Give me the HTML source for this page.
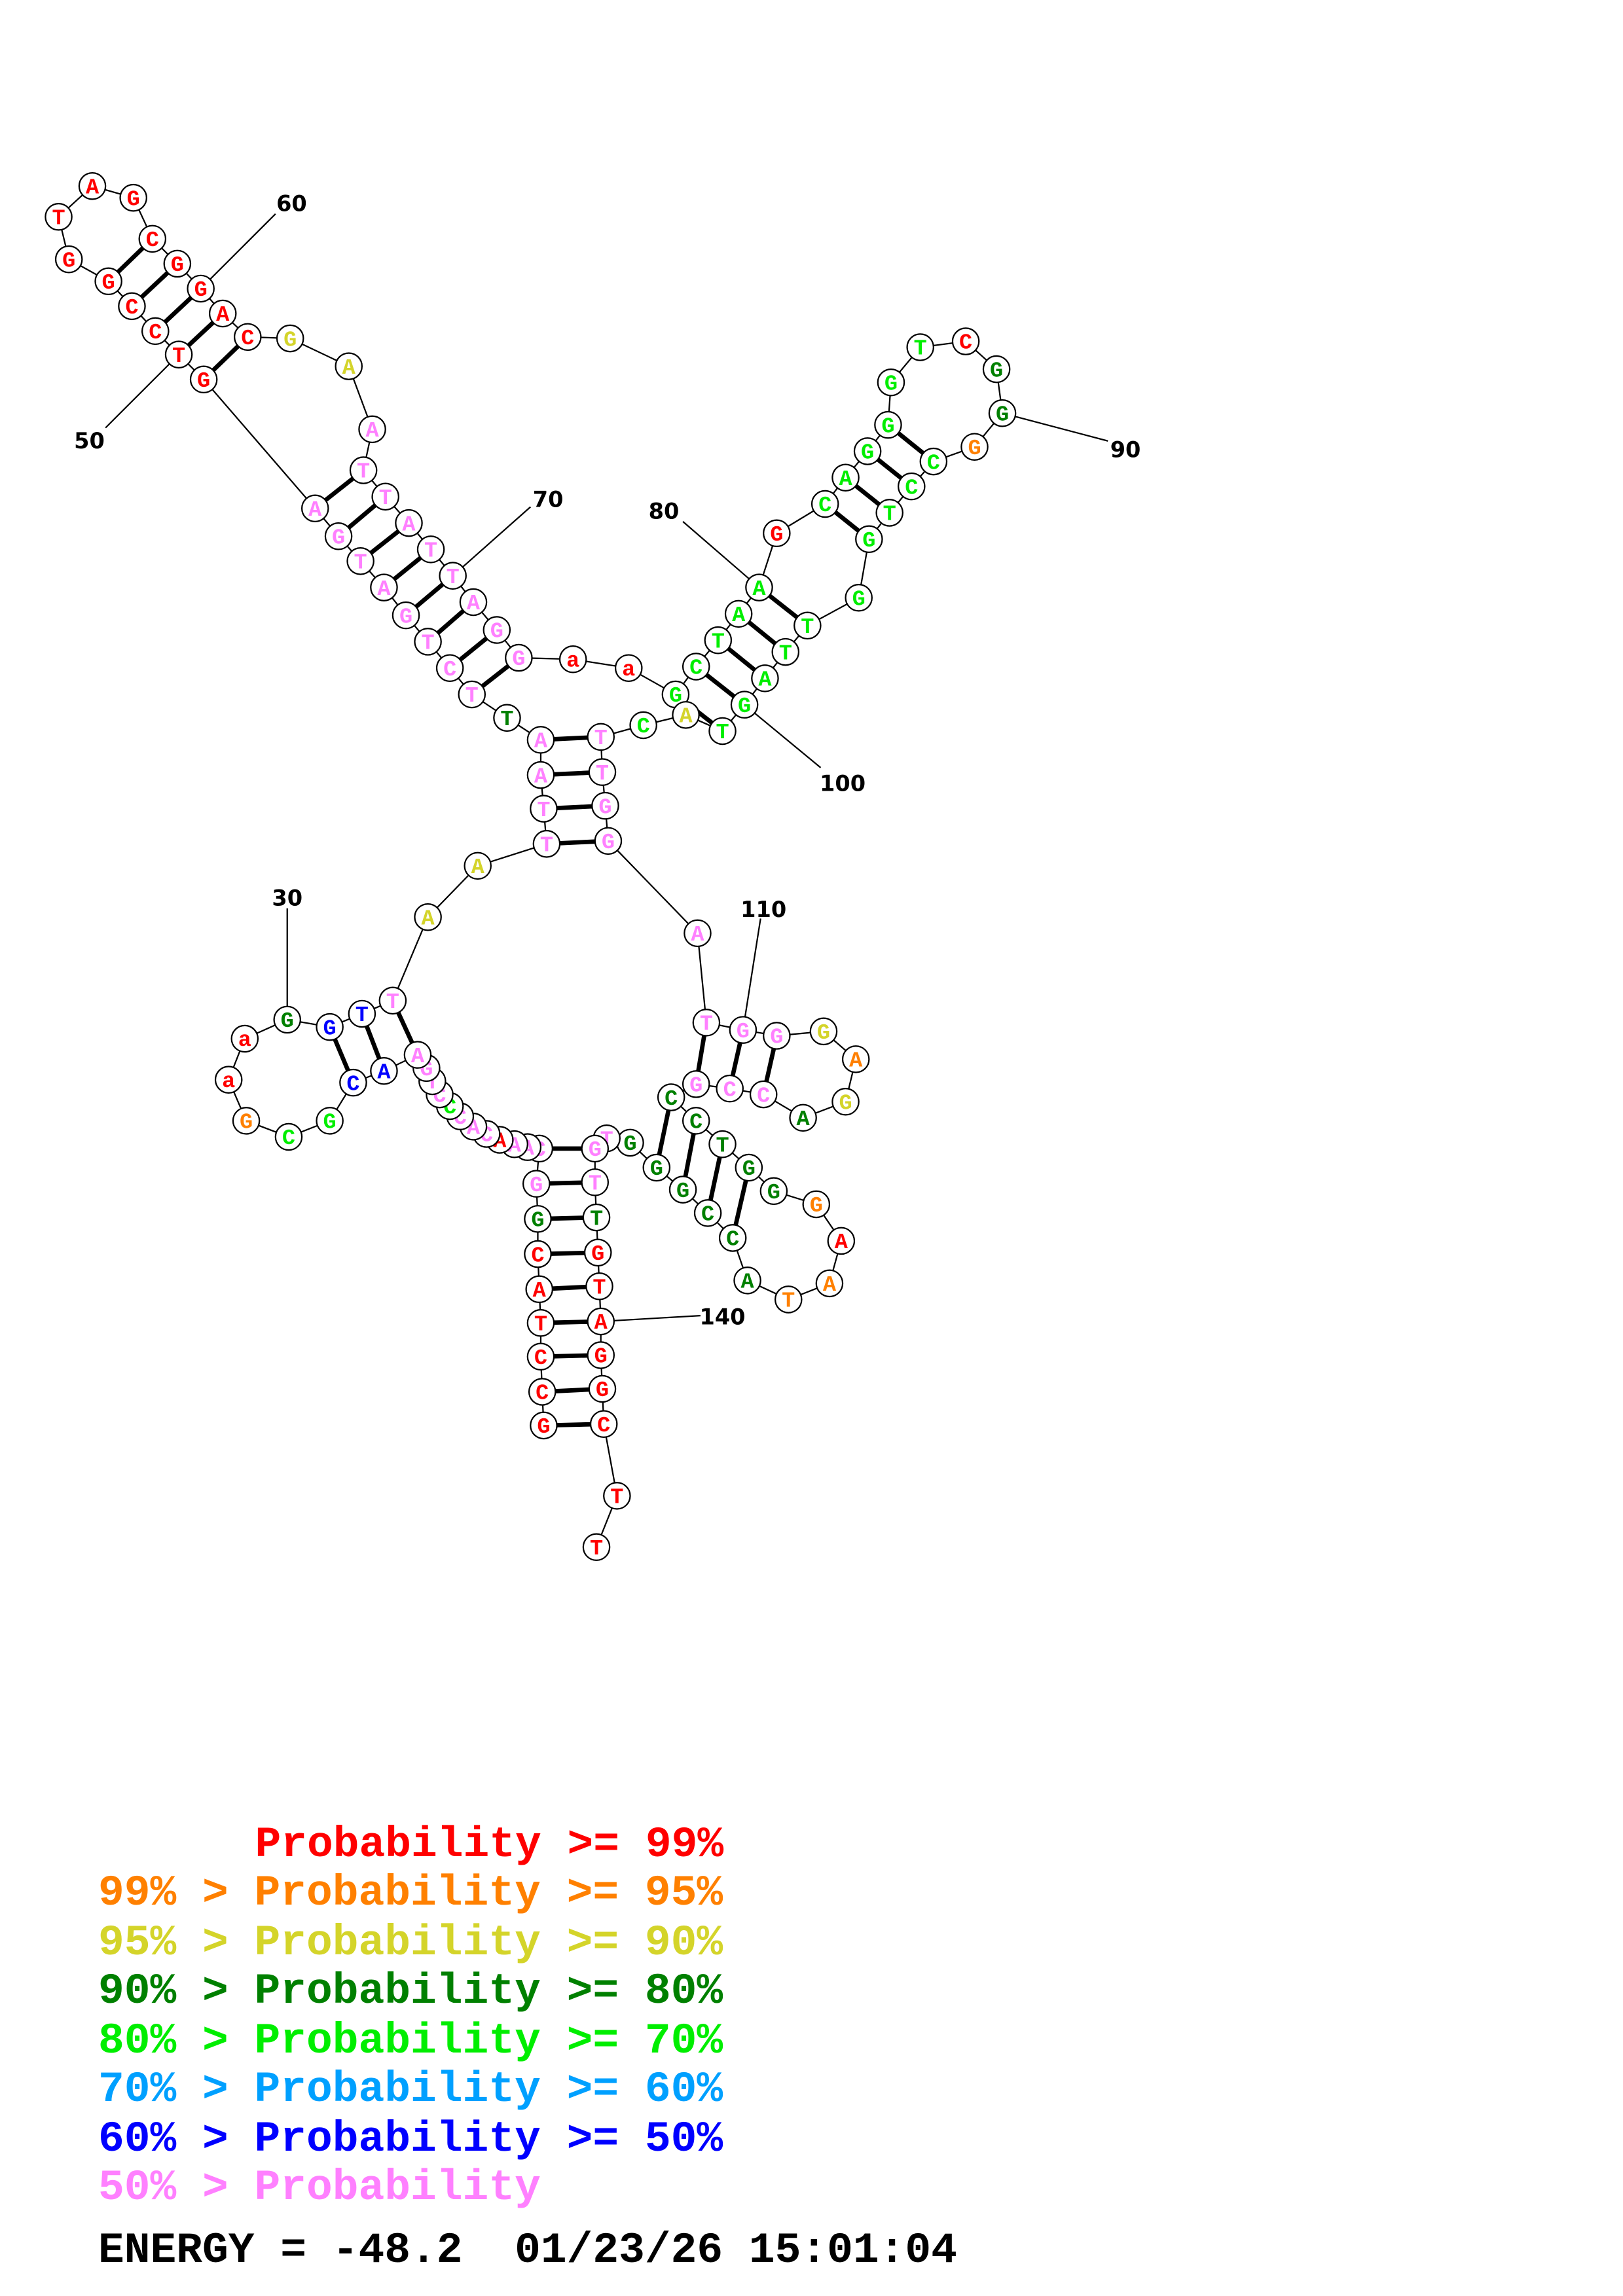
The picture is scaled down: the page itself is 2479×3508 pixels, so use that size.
<!DOCTYPE html>
<html><head><meta charset="utf-8"><style>
html,body{margin:0;padding:0;background:#fff}
svg{display:block}
.n text{font-family:"Liberation Mono",monospace;font-weight:bold;font-size:15px;text-anchor:middle}
.lb{font-family:"DejaVu Sans","Liberation Sans",sans-serif;font-weight:bold;font-size:15px;text-anchor:middle}
.lg{font-family:"Liberation Mono",monospace;font-weight:bold;font-size:29.6px}
</style></head><body>
<svg width="2479" height="3508" viewBox="0 0 1107.5 1567.2" preserveAspectRatio="none" xmlns="http://www.w3.org/2000/svg">
<rect width="1107.5" height="1567.2" fill="#fff"/>
<g stroke="#000" stroke-width="1" fill="none">
<polyline points="371,973 370,950 369,926 369,903 368,880 367,856 367,832 366,808 368,784 360,783 351,781 341,778 332,774 323,769 314,762 307,755 300,747 295,738 291,729 285,720 262,731 241,739 225,765 197,776 168,765 156,737 167,709 196,696 225,701 247,692 268,683 292,626 326,591 373,576 371,552 369,529 369,505 346,490 322,474 307,456 292,438 277,420 262,401 246,383 231,366 215,347 139,259 122,242 106,226 90,209 74,192 47,177 40,148 63,127 91,135 104,163 121,180 137,197 152,214 169,230 198,231 238,250 254,293 248,321 263,339 279,357 294,375 309,393 323,411 339,430 354,449 391,450 429,456 461,474 475,455 490,437 504,419 518,401 530,364 563,344 577,326 592,308 606,290 608,261 628,237 659,233 680,252 684,282 665,305 637,315 622,332 607,350 593,368 586,408 551,427 536,445 522,463 508,481 493,499 468,488 439,495 410,503 411,527 413,550 415,574 476,637 482,698 507,703 530,707 562,704 584,723 577,752 548,763 521,747 498,743 475,740 458,749 475,765 493,781 511,797 528,813 557,822 574,847 566,876 538,887 510,874 500,845 483,828 466,812 448,797 430,780 414,777 406,784 406,807 407,831 408,855 409,878 410,902 410,925 411,948 412,972 421,1021 407,1056"/>
<line x1="196" y1="620" x2="196" y2="696"/>
<line x1="72" y1="292" x2="122" y2="242"/>
<line x1="188" y1="146" x2="137" y2="197"/>
<line x1="362" y1="346" x2="309" y2="393"/>
<line x1="466" y1="356" x2="518" y2="401"/>
<line x1="756" y1="301" x2="684" y2="282"/>
<line x1="560" y1="524" x2="508" y2="481"/>
<line x1="519" y1="627" x2="507" y2="703"/>
<line x1="478" y1="898" x2="410" y2="902"/>
</g>
<g stroke="#000" stroke-width="3">
<line x1="371" y1="973" x2="412" y2="972"/><line x1="370" y1="950" x2="411" y2="948"/><line x1="369" y1="926" x2="410" y2="925"/><line x1="369" y1="903" x2="410" y2="902"/><line x1="368" y1="880" x2="409" y2="878"/><line x1="367" y1="856" x2="408" y2="855"/><line x1="367" y1="832" x2="407" y2="831"/><line x1="366" y1="808" x2="406" y2="807"/><line x1="368" y1="784" x2="406" y2="784"/>
<line x1="268" y1="683" x2="285" y2="720"/><line x1="247" y1="692" x2="262" y2="731"/><line x1="225" y1="701" x2="241" y2="739"/>
<line x1="373" y1="576" x2="415" y2="574"/><line x1="371" y1="552" x2="413" y2="550"/><line x1="369" y1="529" x2="411" y2="527"/><line x1="369" y1="505" x2="410" y2="503"/>
<line x1="248" y1="321" x2="215" y2="347"/><line x1="263" y1="339" x2="231" y2="366"/><line x1="279" y1="357" x2="246" y2="383"/><line x1="294" y1="375" x2="262" y2="401"/><line x1="309" y1="393" x2="277" y2="420"/><line x1="323" y1="411" x2="292" y2="438"/><line x1="339" y1="430" x2="307" y2="456"/><line x1="354" y1="449" x2="322" y2="474"/>
<line x1="104" y1="163" x2="74" y2="192"/><line x1="121" y1="180" x2="90" y2="209"/><line x1="137" y1="197" x2="106" y2="226"/><line x1="152" y1="214" x2="122" y2="242"/><line x1="169" y1="230" x2="139" y2="259"/>
<line x1="461" y1="474" x2="493" y2="499"/><line x1="475" y1="455" x2="508" y2="481"/><line x1="490" y1="437" x2="522" y2="463"/><line x1="504" y1="419" x2="536" y2="445"/><line x1="518" y1="401" x2="551" y2="427"/>
<line x1="563" y1="344" x2="593" y2="368"/><line x1="577" y1="326" x2="607" y2="350"/><line x1="592" y1="308" x2="622" y2="332"/><line x1="606" y1="290" x2="637" y2="315"/>
<line x1="482" y1="698" x2="475" y2="740"/><line x1="507" y1="703" x2="498" y2="743"/><line x1="530" y1="707" x2="521" y2="747"/>
<line x1="458" y1="749" x2="448" y2="797"/><line x1="475" y1="765" x2="466" y2="812"/><line x1="493" y1="781" x2="483" y2="828"/><line x1="511" y1="797" x2="500" y2="845"/>
</g>
<g class="n">
<g transform="translate(371,973)"><circle r="9" fill="#fff" stroke="#000"/><text y="5" fill="#f00">G</text></g>
<g transform="translate(370,950)"><circle r="9" fill="#fff" stroke="#000"/><text y="5" fill="#f00">C</text></g>
<g transform="translate(369,926)"><circle r="9" fill="#fff" stroke="#000"/><text y="5" fill="#f00">C</text></g>
<g transform="translate(369,903)"><circle r="9" fill="#fff" stroke="#000"/><text y="5" fill="#f00">T</text></g>
<g transform="translate(368,880)"><circle r="9" fill="#fff" stroke="#000"/><text y="5" fill="#f00">A</text></g>
<g transform="translate(367,856)"><circle r="9" fill="#fff" stroke="#000"/><text y="5" fill="#f00">C</text></g>
<g transform="translate(367,832)"><circle r="9" fill="#fff" stroke="#000"/><text y="5" fill="#008000">G</text></g>
<g transform="translate(366,808)"><circle r="9" fill="#fff" stroke="#000"/><text y="5" fill="#ff80ff">G</text></g>
<g transform="translate(368,784)"><circle r="9" fill="#fff" stroke="#000"/><text y="5" fill="#ff80ff">C</text></g>
<g transform="translate(360,783)"><circle r="9" fill="#fff" stroke="#000"/><text y="5" fill="#ff80ff">A</text></g>
<g transform="translate(351,781)"><circle r="9" fill="#fff" stroke="#000"/><text y="5" fill="#ff80ff">A</text></g>
<g transform="translate(341,778)"><circle r="9" fill="#fff" stroke="#000"/><text y="5" fill="#f00">A</text></g>
<g transform="translate(332,774)"><circle r="9" fill="#fff" stroke="#000"/><text y="5" fill="#ff80ff">C</text></g>
<g transform="translate(323,769)"><circle r="9" fill="#fff" stroke="#000"/><text y="5" fill="#ff80ff">A</text></g>
<g transform="translate(314,762)"><circle r="9" fill="#fff" stroke="#000"/><text y="5" fill="#ff80ff">C</text></g>
<g transform="translate(307,755)"><circle r="9" fill="#fff" stroke="#000"/><text y="5" fill="#0e0">C</text></g>
<g transform="translate(300,747)"><circle r="9" fill="#fff" stroke="#000"/><text y="5" fill="#ff80ff">C</text></g>
<g transform="translate(295,738)"><circle r="9" fill="#fff" stroke="#000"/><text y="5" fill="#ff80ff">T</text></g>
<g transform="translate(291,729)"><circle r="9" fill="#fff" stroke="#000"/><text y="5" fill="#ff80ff">G</text></g>
<g transform="translate(285,720)"><circle r="9" fill="#fff" stroke="#000"/><text y="5" fill="#ff80ff">A</text></g>
<g transform="translate(262,731)"><circle r="9" fill="#fff" stroke="#000"/><text y="5" fill="#00f">A</text></g>
<g transform="translate(241,739)"><circle r="9" fill="#fff" stroke="#000"/><text y="5" fill="#00f">C</text></g>
<g transform="translate(225,765)"><circle r="9" fill="#fff" stroke="#000"/><text y="5" fill="#0e0">G</text></g>
<g transform="translate(197,776)"><circle r="9" fill="#fff" stroke="#000"/><text y="5" fill="#0e0">C</text></g>
<g transform="translate(168,765)"><circle r="9" fill="#fff" stroke="#000"/><text y="5" fill="#ff8000">G</text></g>
<g transform="translate(156,737)"><circle r="9" fill="#fff" stroke="#000"/><text y="5" fill="#f00">a</text></g>
<g transform="translate(167,709)"><circle r="9" fill="#fff" stroke="#000"/><text y="5" fill="#f00">a</text></g>
<g transform="translate(196,696)"><circle r="9" fill="#fff" stroke="#000"/><text y="5" fill="#008000">G</text></g>
<g transform="translate(225,701)"><circle r="9" fill="#fff" stroke="#000"/><text y="5" fill="#00f">G</text></g>
<g transform="translate(247,692)"><circle r="9" fill="#fff" stroke="#000"/><text y="5" fill="#00f">T</text></g>
<g transform="translate(268,683)"><circle r="9" fill="#fff" stroke="#000"/><text y="5" fill="#ff80ff">T</text></g>
<g transform="translate(292,626)"><circle r="9" fill="#fff" stroke="#000"/><text y="5" fill="#d4d42a">A</text></g>
<g transform="translate(326,591)"><circle r="9" fill="#fff" stroke="#000"/><text y="5" fill="#d4d42a">A</text></g>
<g transform="translate(373,576)"><circle r="9" fill="#fff" stroke="#000"/><text y="5" fill="#ff80ff">T</text></g>
<g transform="translate(371,552)"><circle r="9" fill="#fff" stroke="#000"/><text y="5" fill="#ff80ff">T</text></g>
<g transform="translate(369,529)"><circle r="9" fill="#fff" stroke="#000"/><text y="5" fill="#ff80ff">A</text></g>
<g transform="translate(369,505)"><circle r="9" fill="#fff" stroke="#000"/><text y="5" fill="#ff80ff">A</text></g>
<g transform="translate(346,490)"><circle r="9" fill="#fff" stroke="#000"/><text y="5" fill="#008000">T</text></g>
<g transform="translate(322,474)"><circle r="9" fill="#fff" stroke="#000"/><text y="5" fill="#ff80ff">T</text></g>
<g transform="translate(307,456)"><circle r="9" fill="#fff" stroke="#000"/><text y="5" fill="#ff80ff">C</text></g>
<g transform="translate(292,438)"><circle r="9" fill="#fff" stroke="#000"/><text y="5" fill="#ff80ff">T</text></g>
<g transform="translate(277,420)"><circle r="9" fill="#fff" stroke="#000"/><text y="5" fill="#ff80ff">G</text></g>
<g transform="translate(262,401)"><circle r="9" fill="#fff" stroke="#000"/><text y="5" fill="#ff80ff">A</text></g>
<g transform="translate(246,383)"><circle r="9" fill="#fff" stroke="#000"/><text y="5" fill="#ff80ff">T</text></g>
<g transform="translate(231,366)"><circle r="9" fill="#fff" stroke="#000"/><text y="5" fill="#ff80ff">G</text></g>
<g transform="translate(215,347)"><circle r="9" fill="#fff" stroke="#000"/><text y="5" fill="#ff80ff">A</text></g>
<g transform="translate(139,259)"><circle r="9" fill="#fff" stroke="#000"/><text y="5" fill="#f00">G</text></g>
<g transform="translate(122,242)"><circle r="9" fill="#fff" stroke="#000"/><text y="5" fill="#f00">T</text></g>
<g transform="translate(106,226)"><circle r="9" fill="#fff" stroke="#000"/><text y="5" fill="#f00">C</text></g>
<g transform="translate(90,209)"><circle r="9" fill="#fff" stroke="#000"/><text y="5" fill="#f00">C</text></g>
<g transform="translate(74,192)"><circle r="9" fill="#fff" stroke="#000"/><text y="5" fill="#f00">G</text></g>
<g transform="translate(47,177)"><circle r="9" fill="#fff" stroke="#000"/><text y="5" fill="#f00">G</text></g>
<g transform="translate(40,148)"><circle r="9" fill="#fff" stroke="#000"/><text y="5" fill="#f00">T</text></g>
<g transform="translate(63,127)"><circle r="9" fill="#fff" stroke="#000"/><text y="5" fill="#f00">A</text></g>
<g transform="translate(91,135)"><circle r="9" fill="#fff" stroke="#000"/><text y="5" fill="#f00">G</text></g>
<g transform="translate(104,163)"><circle r="9" fill="#fff" stroke="#000"/><text y="5" fill="#f00">C</text></g>
<g transform="translate(121,180)"><circle r="9" fill="#fff" stroke="#000"/><text y="5" fill="#f00">G</text></g>
<g transform="translate(137,197)"><circle r="9" fill="#fff" stroke="#000"/><text y="5" fill="#f00">G</text></g>
<g transform="translate(152,214)"><circle r="9" fill="#fff" stroke="#000"/><text y="5" fill="#f00">A</text></g>
<g transform="translate(169,230)"><circle r="9" fill="#fff" stroke="#000"/><text y="5" fill="#f00">C</text></g>
<g transform="translate(198,231)"><circle r="9" fill="#fff" stroke="#000"/><text y="5" fill="#d4d42a">G</text></g>
<g transform="translate(238,250)"><circle r="9" fill="#fff" stroke="#000"/><text y="5" fill="#d4d42a">A</text></g>
<g transform="translate(254,293)"><circle r="9" fill="#fff" stroke="#000"/><text y="5" fill="#ff80ff">A</text></g>
<g transform="translate(248,321)"><circle r="9" fill="#fff" stroke="#000"/><text y="5" fill="#ff80ff">T</text></g>
<g transform="translate(263,339)"><circle r="9" fill="#fff" stroke="#000"/><text y="5" fill="#ff80ff">T</text></g>
<g transform="translate(279,357)"><circle r="9" fill="#fff" stroke="#000"/><text y="5" fill="#ff80ff">A</text></g>
<g transform="translate(294,375)"><circle r="9" fill="#fff" stroke="#000"/><text y="5" fill="#ff80ff">T</text></g>
<g transform="translate(309,393)"><circle r="9" fill="#fff" stroke="#000"/><text y="5" fill="#ff80ff">T</text></g>
<g transform="translate(323,411)"><circle r="9" fill="#fff" stroke="#000"/><text y="5" fill="#ff80ff">A</text></g>
<g transform="translate(339,430)"><circle r="9" fill="#fff" stroke="#000"/><text y="5" fill="#ff80ff">G</text></g>
<g transform="translate(354,449)"><circle r="9" fill="#fff" stroke="#000"/><text y="5" fill="#ff80ff">G</text></g>
<g transform="translate(391,450)"><circle r="9" fill="#fff" stroke="#000"/><text y="5" fill="#f00">a</text></g>
<g transform="translate(429,456)"><circle r="9" fill="#fff" stroke="#000"/><text y="5" fill="#f00">a</text></g>
<g transform="translate(461,474)"><circle r="9" fill="#fff" stroke="#000"/><text y="5" fill="#0e0">G</text></g>
<g transform="translate(475,455)"><circle r="9" fill="#fff" stroke="#000"/><text y="5" fill="#0e0">C</text></g>
<g transform="translate(490,437)"><circle r="9" fill="#fff" stroke="#000"/><text y="5" fill="#0e0">T</text></g>
<g transform="translate(504,419)"><circle r="9" fill="#fff" stroke="#000"/><text y="5" fill="#0e0">A</text></g>
<g transform="translate(518,401)"><circle r="9" fill="#fff" stroke="#000"/><text y="5" fill="#0e0">A</text></g>
<g transform="translate(530,364)"><circle r="9" fill="#fff" stroke="#000"/><text y="5" fill="#f00">G</text></g>
<g transform="translate(563,344)"><circle r="9" fill="#fff" stroke="#000"/><text y="5" fill="#0e0">C</text></g>
<g transform="translate(577,326)"><circle r="9" fill="#fff" stroke="#000"/><text y="5" fill="#0e0">A</text></g>
<g transform="translate(592,308)"><circle r="9" fill="#fff" stroke="#000"/><text y="5" fill="#0e0">G</text></g>
<g transform="translate(606,290)"><circle r="9" fill="#fff" stroke="#000"/><text y="5" fill="#0e0">G</text></g>
<g transform="translate(608,261)"><circle r="9" fill="#fff" stroke="#000"/><text y="5" fill="#0e0">G</text></g>
<g transform="translate(628,237)"><circle r="9" fill="#fff" stroke="#000"/><text y="5" fill="#0e0">T</text></g>
<g transform="translate(659,233)"><circle r="9" fill="#fff" stroke="#000"/><text y="5" fill="#f00">C</text></g>
<g transform="translate(680,252)"><circle r="9" fill="#fff" stroke="#000"/><text y="5" fill="#008000">G</text></g>
<g transform="translate(684,282)"><circle r="9" fill="#fff" stroke="#000"/><text y="5" fill="#008000">G</text></g>
<g transform="translate(665,305)"><circle r="9" fill="#fff" stroke="#000"/><text y="5" fill="#ff8000">G</text></g>
<g transform="translate(637,315)"><circle r="9" fill="#fff" stroke="#000"/><text y="5" fill="#0e0">C</text></g>
<g transform="translate(622,332)"><circle r="9" fill="#fff" stroke="#000"/><text y="5" fill="#0e0">C</text></g>
<g transform="translate(607,350)"><circle r="9" fill="#fff" stroke="#000"/><text y="5" fill="#0e0">T</text></g>
<g transform="translate(593,368)"><circle r="9" fill="#fff" stroke="#000"/><text y="5" fill="#0e0">G</text></g>
<g transform="translate(586,408)"><circle r="9" fill="#fff" stroke="#000"/><text y="5" fill="#0e0">G</text></g>
<g transform="translate(551,427)"><circle r="9" fill="#fff" stroke="#000"/><text y="5" fill="#0e0">T</text></g>
<g transform="translate(536,445)"><circle r="9" fill="#fff" stroke="#000"/><text y="5" fill="#0e0">T</text></g>
<g transform="translate(522,463)"><circle r="9" fill="#fff" stroke="#000"/><text y="5" fill="#0e0">A</text></g>
<g transform="translate(508,481)"><circle r="9" fill="#fff" stroke="#000"/><text y="5" fill="#0e0">G</text></g>
<g transform="translate(493,499)"><circle r="9" fill="#fff" stroke="#000"/><text y="5" fill="#0e0">T</text></g>
<g transform="translate(468,488)"><circle r="9" fill="#fff" stroke="#000"/><text y="5" fill="#d4d42a">A</text></g>
<g transform="translate(439,495)"><circle r="9" fill="#fff" stroke="#000"/><text y="5" fill="#0e0">C</text></g>
<g transform="translate(410,503)"><circle r="9" fill="#fff" stroke="#000"/><text y="5" fill="#ff80ff">T</text></g>
<g transform="translate(411,527)"><circle r="9" fill="#fff" stroke="#000"/><text y="5" fill="#ff80ff">T</text></g>
<g transform="translate(413,550)"><circle r="9" fill="#fff" stroke="#000"/><text y="5" fill="#ff80ff">G</text></g>
<g transform="translate(415,574)"><circle r="9" fill="#fff" stroke="#000"/><text y="5" fill="#ff80ff">G</text></g>
<g transform="translate(476,637)"><circle r="9" fill="#fff" stroke="#000"/><text y="5" fill="#ff80ff">A</text></g>
<g transform="translate(482,698)"><circle r="9" fill="#fff" stroke="#000"/><text y="5" fill="#ff80ff">T</text></g>
<g transform="translate(507,703)"><circle r="9" fill="#fff" stroke="#000"/><text y="5" fill="#ff80ff">G</text></g>
<g transform="translate(530,707)"><circle r="9" fill="#fff" stroke="#000"/><text y="5" fill="#ff80ff">G</text></g>
<g transform="translate(562,704)"><circle r="9" fill="#fff" stroke="#000"/><text y="5" fill="#d4d42a">G</text></g>
<g transform="translate(584,723)"><circle r="9" fill="#fff" stroke="#000"/><text y="5" fill="#ff8000">A</text></g>
<g transform="translate(577,752)"><circle r="9" fill="#fff" stroke="#000"/><text y="5" fill="#d4d42a">G</text></g>
<g transform="translate(548,763)"><circle r="9" fill="#fff" stroke="#000"/><text y="5" fill="#008000">A</text></g>
<g transform="translate(521,747)"><circle r="9" fill="#fff" stroke="#000"/><text y="5" fill="#ff80ff">C</text></g>
<g transform="translate(498,743)"><circle r="9" fill="#fff" stroke="#000"/><text y="5" fill="#ff80ff">C</text></g>
<g transform="translate(475,740)"><circle r="9" fill="#fff" stroke="#000"/><text y="5" fill="#ff80ff">G</text></g>
<g transform="translate(458,749)"><circle r="9" fill="#fff" stroke="#000"/><text y="5" fill="#008000">C</text></g>
<g transform="translate(475,765)"><circle r="9" fill="#fff" stroke="#000"/><text y="5" fill="#008000">C</text></g>
<g transform="translate(493,781)"><circle r="9" fill="#fff" stroke="#000"/><text y="5" fill="#008000">T</text></g>
<g transform="translate(511,797)"><circle r="9" fill="#fff" stroke="#000"/><text y="5" fill="#008000">G</text></g>
<g transform="translate(528,813)"><circle r="9" fill="#fff" stroke="#000"/><text y="5" fill="#008000">G</text></g>
<g transform="translate(557,822)"><circle r="9" fill="#fff" stroke="#000"/><text y="5" fill="#ff8000">G</text></g>
<g transform="translate(574,847)"><circle r="9" fill="#fff" stroke="#000"/><text y="5" fill="#f00">A</text></g>
<g transform="translate(566,876)"><circle r="9" fill="#fff" stroke="#000"/><text y="5" fill="#ff8000">A</text></g>
<g transform="translate(538,887)"><circle r="9" fill="#fff" stroke="#000"/><text y="5" fill="#ff8000">T</text></g>
<g transform="translate(510,874)"><circle r="9" fill="#fff" stroke="#000"/><text y="5" fill="#008000">A</text></g>
<g transform="translate(500,845)"><circle r="9" fill="#fff" stroke="#000"/><text y="5" fill="#008000">C</text></g>
<g transform="translate(483,828)"><circle r="9" fill="#fff" stroke="#000"/><text y="5" fill="#008000">C</text></g>
<g transform="translate(466,812)"><circle r="9" fill="#fff" stroke="#000"/><text y="5" fill="#008000">G</text></g>
<g transform="translate(448,797)"><circle r="9" fill="#fff" stroke="#000"/><text y="5" fill="#008000">G</text></g>
<g transform="translate(430,780)"><circle r="9" fill="#fff" stroke="#000"/><text y="5" fill="#008000">G</text></g>
<g transform="translate(414,777)"><circle r="9" fill="#fff" stroke="#000"/><text y="5" fill="#ff80ff">T</text></g>
<g transform="translate(406,784)"><circle r="9" fill="#fff" stroke="#000"/><text y="5" fill="#ff80ff">G</text></g>
<g transform="translate(406,807)"><circle r="9" fill="#fff" stroke="#000"/><text y="5" fill="#ff80ff">T</text></g>
<g transform="translate(407,831)"><circle r="9" fill="#fff" stroke="#000"/><text y="5" fill="#008000">T</text></g>
<g transform="translate(408,855)"><circle r="9" fill="#fff" stroke="#000"/><text y="5" fill="#f00">G</text></g>
<g transform="translate(409,878)"><circle r="9" fill="#fff" stroke="#000"/><text y="5" fill="#f00">T</text></g>
<g transform="translate(410,902)"><circle r="9" fill="#fff" stroke="#000"/><text y="5" fill="#f00">A</text></g>
<g transform="translate(410,925)"><circle r="9" fill="#fff" stroke="#000"/><text y="5" fill="#f00">G</text></g>
<g transform="translate(411,948)"><circle r="9" fill="#fff" stroke="#000"/><text y="5" fill="#f00">G</text></g>
<g transform="translate(412,972)"><circle r="9" fill="#fff" stroke="#000"/><text y="5" fill="#f00">C</text></g>
<g transform="translate(421,1021)"><circle r="9" fill="#fff" stroke="#000"/><text y="5" fill="#f00">T</text></g>
<g transform="translate(407,1056)"><circle r="9" fill="#fff" stroke="#000"/><text y="5" fill="#f00">T</text></g>
</g>
<g class="lb" fill="#000">
<text x="196" y="618">30</text>
<text x="61" y="306">50</text>
<text x="199" y="144">60</text>
<text x="374" y="346">70</text>
<text x="453" y="354">80</text>
<text x="768" y="312">90</text>
<text x="575" y="540">100</text>
<text x="521" y="626">110</text>
<text x="493" y="904">140</text>
</g>
<g class="lg">
<text x="174" y="1267" fill="#f00">Probability &gt;= 99%</text>
<text x="67" y="1300" fill="#ff8000">99% &gt; Probability &gt;= 95%</text>
<text x="67" y="1334" fill="#d4d42a">95% &gt; Probability &gt;= 90%</text>
<text x="67" y="1367" fill="#008000">90% &gt; Probability &gt;= 80%</text>
<text x="67" y="1401" fill="#0e0">80% &gt; Probability &gt;= 70%</text>
<text x="67" y="1434" fill="#00a0ff">70% &gt; Probability &gt;= 60%</text>
<text x="67" y="1468" fill="#00f">60% &gt; Probability &gt;= 50%</text>
<text x="67" y="1501" fill="#ff80ff">50% &gt; Probability</text>
<text x="67" y="1544" fill="#000" xml:space="preserve">ENERGY = -48.2  01/23/26 15:01:04</text>
</g>
</svg>
</body></html>
